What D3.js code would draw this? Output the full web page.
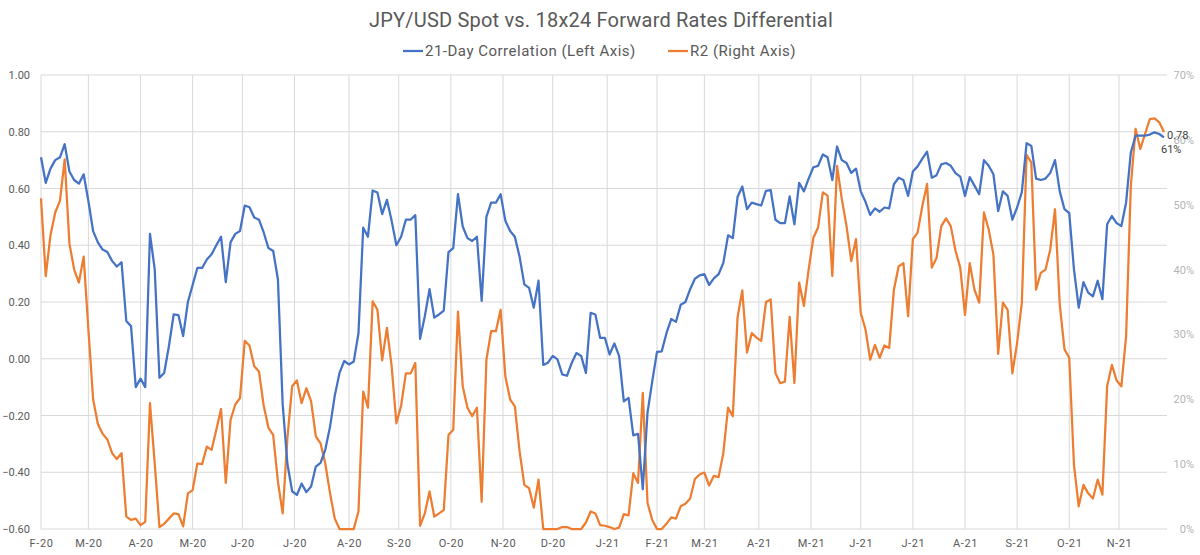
<!DOCTYPE html>
<html lang="en">
    <head>
        <meta charset="utf-8" />
        <title>JPY/USD Spot vs. 18x24 Forward Rates Differential</title>
        <script src="https://cdn.jsdelivr.net/npm/d3@7"></script>
        <style>
            html, body { margin:0; padding:0; overflow:hidden; background-color: #ffffff }
            svg { display:block; font-family: Roboto, "Noto Sans", sans-serif }
        </style>
    </head>
    <body>
        <svg id="svg" width="1200" height="555"></svg>
        <script>

            // series start on this date, one value every 2 weekdays
            const startDate = "2020-02-03";
            const stepDays = 2;

            // 21-day correlation (left axis)
            const corr = [
                0.71, 0.62, 0.67, 0.70, 0.71, 0.756, 0.66, 0.63, 0.617, 0.65,
                0.556, 0.45, 0.41, 0.385, 0.376, 0.345, 0.325, 0.34, 0.133, 0.115,
                -0.10, -0.07, -0.10, 0.44, 0.315, -0.067, -0.05, 0.045, 0.156, 0.154,
                0.08, 0.20, 0.26, 0.32, 0.32, 0.35, 0.368, 0.40, 0.43, 0.27,
                0.41, 0.44, 0.45, 0.54, 0.534, 0.498, 0.49, 0.445, 0.39, 0.38,
                0.28, -0.16, -0.37, -0.467, -0.48, -0.44, -0.47, -0.45, -0.38, -0.367,
                -0.32, -0.24, -0.13, -0.05, -0.008, -0.02, -0.01, 0.09, 0.462, 0.43,
                0.593, 0.586, 0.51, 0.56, 0.486, 0.40, 0.43, 0.49, 0.49, 0.506,
                0.07, 0.15, 0.245, 0.145, 0.156, 0.17, 0.376, 0.39, 0.58, 0.466,
                0.425, 0.415, 0.43, 0.204, 0.50, 0.55, 0.55, 0.58, 0.486, 0.45,
                0.43, 0.36, 0.262, 0.25, 0.18, 0.275, -0.022, -0.014, 0.01, -0.002,
                -0.055, -0.06, -0.015, 0.02, 0.01, -0.05, 0.162, 0.156, 0.074, 0.074,
                0.015, 0.054, 0.01, -0.15, -0.138, -0.27, -0.265, -0.46, -0.19, -0.08,
                0.024, 0.026, 0.09, 0.14, 0.13, 0.19, 0.20, 0.245, 0.282, 0.294,
                0.298, 0.26, 0.283, 0.298, 0.338, 0.435, 0.425, 0.57, 0.607, 0.527,
                0.55, 0.545, 0.54, 0.592, 0.594, 0.49, 0.478, 0.478, 0.572, 0.474,
                0.62, 0.59, 0.635, 0.675, 0.68, 0.72, 0.71, 0.63, 0.748, 0.70,
                0.69, 0.655, 0.67, 0.59, 0.553, 0.507, 0.53, 0.518, 0.533, 0.53,
                0.615, 0.638, 0.63, 0.574, 0.66, 0.678, 0.705, 0.73, 0.638, 0.647,
                0.685, 0.69, 0.68, 0.654, 0.642, 0.574, 0.64, 0.61, 0.58, 0.70,
                0.68, 0.65, 0.52, 0.59, 0.574, 0.49, 0.533, 0.587, 0.76, 0.75,
                0.635, 0.63, 0.635, 0.655, 0.70, 0.59, 0.527, 0.513, 0.315, 0.18,
                0.27, 0.233, 0.22, 0.275, 0.21, 0.474, 0.503, 0.478, 0.468, 0.55,
                0.727, 0.786, 0.786, 0.786, 0.79, 0.798, 0.792, 0.78
            ];

            // R2 in percent (right axis)
            const r2 = [
                51, 39, 45.3, 48.8, 50.6, 57, 44, 40, 38, 42,
                30.8, 20, 16.2, 14.7, 13.8, 11.7, 10.8, 11.7, 1.9, 1.4,
                1.6, 0.6, 1.1, 19.4, 10.1, 0.3, 0.8, 1.6, 2.4, 2.3,
                0.4, 5.5, 6, 10.1, 10, 12.7, 12.2, 15.3, 18.5, 7.1,
                16.8, 19.2, 20.2, 29, 28.3, 25.1, 24.3, 19, 15.6, 14.5,
                7.3, 2.4, 14, 22, 22.9, 19.4, 21.7, 19.7, 14.3, 13.2,
                10.1, 5.5, 1.6, 0, 0, 0, 0, 2.7, 21.2, 18.7,
                35.1, 33.8, 26, 31, 25.1, 16.3, 19, 24, 24, 25.6,
                0.5, 2.4, 5.8, 1.9, 2.4, 2.9, 14.5, 15.3, 33.5, 22,
                18.7, 17.4, 18.7, 4.2, 26.1, 30.5, 30.5, 33.8, 23.5, 20,
                18.9, 12, 6.8, 6.3, 3.3, 7.6, 0, 0, 0, 0,
                0.3, 0.3, 0, 0, 0, 1, 2.7, 2.4, 0.6, 0.5,
                0.3, 0, 0.2, 2.3, 2.1, 8.6, 7.1, 21, 4, 1.4,
                0, 0, 0.8, 1.8, 1.6, 3.5, 3.9, 4.7, 7.7, 8.4,
                8.7, 6.7, 8.2, 8, 11.7, 18.7, 17.4, 32.6, 36.8, 27.2,
                30.2, 29.5, 29, 35, 35.4, 24, 22.5, 22.7, 32.7, 22.5,
                38, 34.4, 40, 44.9, 46.5, 51.9, 51.4, 39, 56, 50.9,
                46.7, 41.3, 44.7, 33.3, 30.8, 26.1, 28.4, 26.4, 28.3, 27.9,
                36.9, 40.5, 41, 32.8, 44.7, 45.7, 49.8, 53.2, 40.3, 41.8,
                46.7, 47.9, 46.7, 42.9, 40.3, 33, 41, 36.9, 34.9, 48.8,
                46.2, 42.3, 27, 34.9, 33.8, 24, 28.7, 34.9, 57.7, 56.5,
                36.9, 39.5, 40, 43.1, 49.3, 34.6, 27.7, 26.4, 9.9, 3.5,
                6.8, 5.5, 4.7, 7.6, 5.3, 22, 25.3, 22.9, 22, 29.7,
                52.9, 61.7, 58.6, 60.9, 63.2, 63.3, 62.7, 61.2
            ];

            const monthLabels = ["F-20","M-20","A-20","M-20","J-20","J-20","A-20","S-20","O-20","N-20","D-20",
                                 "J-21","F-21","M-21","A-21","M-21","J-21","J-21","A-21","S-21","O-21","N-21"];
            const leftTicks = [-0.6, -0.4, -0.2, 0, 0.2, 0.4, 0.6, 0.8, 1.0];
            const rightTicks = [0, 10, 20, 30, 40, 50, 60, 70];

            const title = "JPY/USD Spot vs. 18x24 Forward Rates Differential";
            const seriesNames = ["21-Day Correlation (Left Axis)", "R2 (Right Axis)"];
            const blue = "#4472c4", orange = "#ed7d31";

            // weekday calendar, the x axis counts trading days
            let weekdays = [];
            let d = new Date(startDate + "T00:00:00");
            let lastDay = (corr.length - 1) * stepDays;
            while (weekdays.length <= lastDay) {
                if (d.getDay() != 0 && d.getDay() != 6) weekdays.push(new Date(d));
                d.setDate(d.getDate() + 1);
            }
            // first weekday of each month
            let monthStarts = [];
            weekdays.forEach((w, i) => {
                if (i == 0 || w.getMonth() != weekdays[i-1].getMonth()) monthStarts.push(i);
            });

            let svg = d3.select("svg");
            let plot = {left: 41, right: 1164, top: 75, bottom: 529};

            let x = d3.scaleLinear()
                .domain([0, lastDay])
                .range([plot.left, plot.right]);
            let yLeft = d3.scaleLinear()
                .domain([-0.6, 1.0])
                .range([plot.bottom, plot.top]);
            let yRight = d3.scaleLinear()
                .domain([0, 70])
                .range([plot.bottom, plot.top]);

            // grid
            let grid = svg.append("g");
            grid.selectAll(".hgrid")
                .data(leftTicks)
                .join("line")
                .attr("x1", plot.left)
                .attr("x2", plot.right + 3)
                .attr("y1", d => yLeft(d))
                .attr("y2", d => yLeft(d))
                .attr("stroke", "#d9d9d9")
                .attr("stroke-width", 1);
            grid.selectAll(".vgrid")
                .data(monthStarts)
                .join("line")
                .attr("x1", d => x(d))
                .attr("x2", d => x(d))
                .attr("y1", plot.top)
                .attr("y2", plot.bottom)
                .attr("stroke", "#d9d9d9")
                .attr("stroke-width", 1);

            // axes
            let leftAxis = d3.axisLeft(yLeft)
                .tickValues(leftTicks)
                .tickFormat(d3.format(".2f"))
                .tickSize(0)
                .tickPadding(10);
            let rightAxis = d3.axisRight(yRight)
                .tickValues(rightTicks)
                .tickFormat(d => d + "%")
                .tickSize(0)
                .tickPadding(0);
            let bottomAxis = d3.axisBottom(x)
                .tickValues(monthStarts)
                .tickFormat((d, i) => monthLabels[i])
                .tickSize(0)
                .tickPadding(10);

            let gl = svg.append("g")
                .attr("transform", `translate(${plot.left},0)`)
                .call(leftAxis);
            gl.selectAll("text").attr("fill", "#595959").style("font-size", "11px").attr("x", -11);

            let gr = svg.append("g")
                .attr("transform", "translate(1194,0)")
                .call(rightAxis);
            gr.selectAll("text").attr("fill", "#b4b4b4").style("font-size", "11px").attr("text-anchor", "end").attr("x", 0);

            let gb = svg.append("g")
                .attr("transform", `translate(0,${plot.bottom})`)
                .call(bottomAxis);
            gb.selectAll("text").attr("fill", "#595959").style("font-size", "11px").style("letter-spacing", "0.6px");

            [gl, gr, gb].forEach(g => {
                g.select(".domain").remove();
                g.attr("font-family", null);
            });

            // lines
            let lineCorr = d3.line()
                .x((d, i) => x(i * stepDays))
                .y(d => yLeft(d));
            let lineR2 = d3.line()
                .x((d, i) => x(i * stepDays))
                .y(d => yRight(d));

            svg.append("path")
                .attr("d", lineR2(r2))
                .attr("fill", "none")
                .attr("stroke", orange)
                .attr("stroke-width", 2.25)
                .attr("stroke-linejoin", "round");
            svg.append("path")
                .attr("d", lineCorr(corr))
                .attr("fill", "none")
                .attr("stroke", blue)
                .attr("stroke-width", 2.25)
                .attr("stroke-linejoin", "round");

            // end labels
            let n = corr.length - 1;
            svg.append("text")
                .attr("x", x(n * stepDays) + 3)
                .attr("y", yLeft(corr[n]) + 2)
                .attr("fill", "#404040")
                .style("font-size", "11px")
                .text(d3.format(".2f")(corr[n]));
            svg.append("text")
                .attr("x", x(n * stepDays) - 3)
                .attr("y", yRight(r2[n]) + 21)
                .attr("fill", "#404040")
                .style("font-size", "11px")
                .text(Math.round(r2[n]) + "%");

            // title and legend
            svg.append("text")
                .attr("x", 601)
                .attr("y", 27)
                .attr("text-anchor", "middle")
                .attr("fill", "#595959")
                .style("font-size", "20px")
                .style("letter-spacing", "0.2px")
                .text(title);

            let legend = svg.append("g");
            let lx = [403, 668];
            [blue, orange].forEach((c, i) => {
                legend.append("line")
                    .attr("x1", lx[i]).attr("x2", lx[i] + 20)
                    .attr("y1", 51).attr("y2", 51)
                    .attr("stroke", c)
                    .attr("stroke-width", 2.25);
                legend.append("text")
                    .attr("x", lx[i] + 22)
                    .attr("y", 56)
                    .attr("fill", "#595959")
                    .style("font-size", "15px")
                    .style("letter-spacing", "0.5px")
                    .text(seriesNames[i]);
            });

        </script>
    </body>
</html>
